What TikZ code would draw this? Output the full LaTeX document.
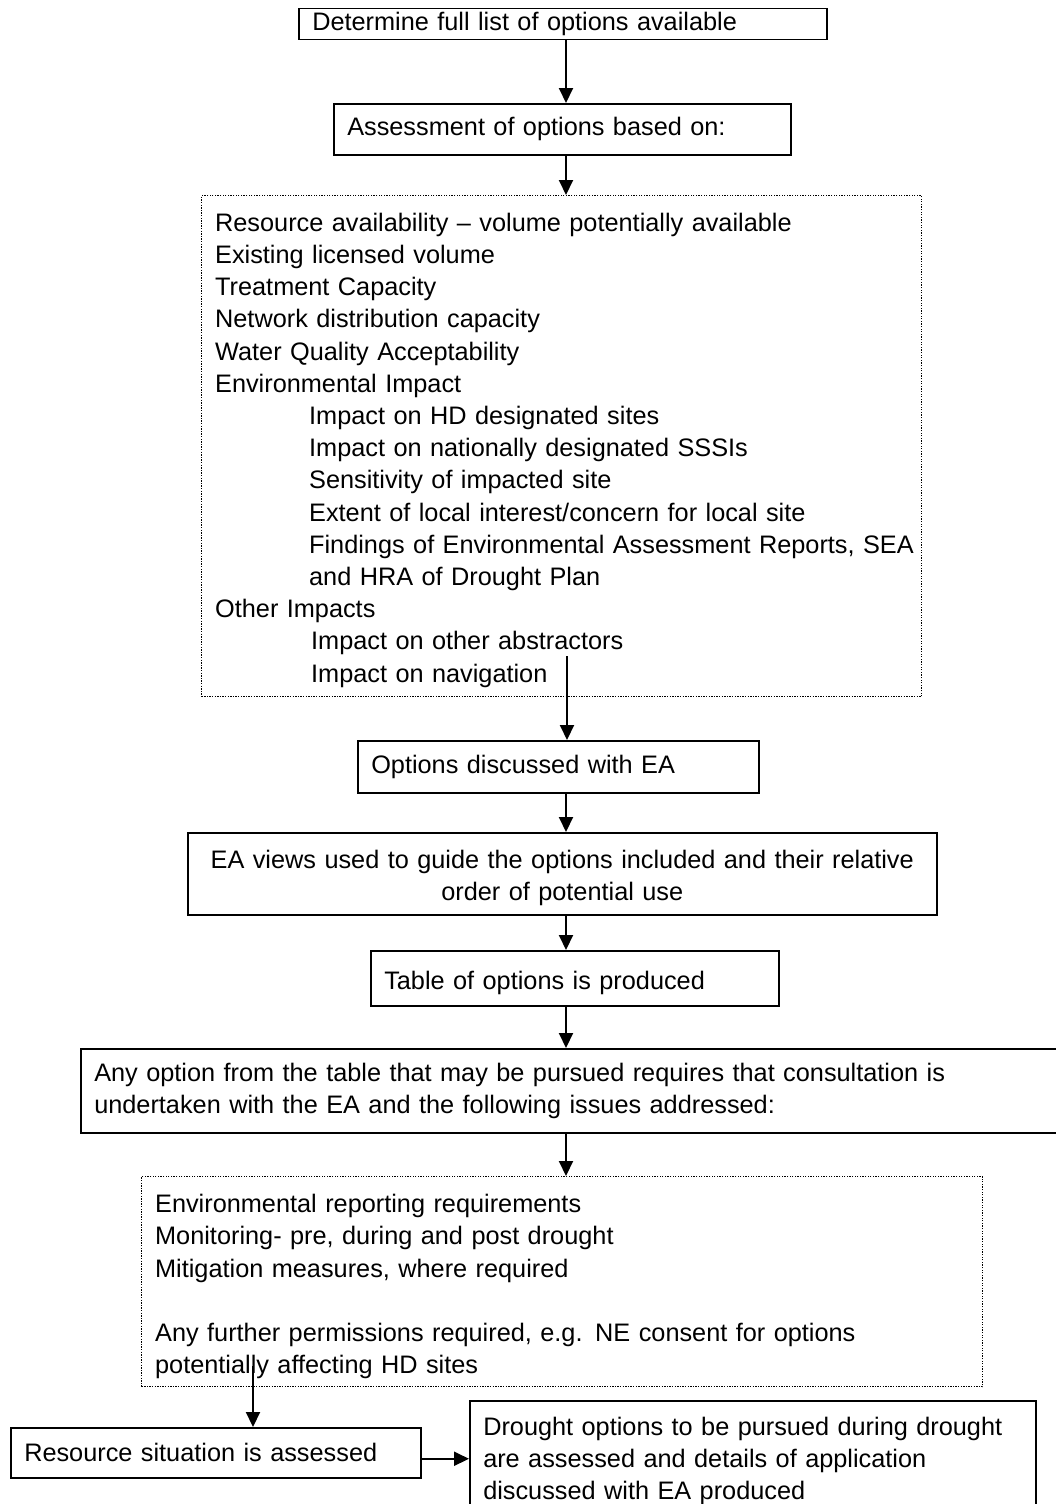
\documentclass[tikz,border=0pt]{standalone}
\usepackage{fontspec}
\setmainfont{Liberation Sans}
\usetikzlibrary{arrows.meta,calc}
\newcommand{\topstrut}[1]{\rule{0pt}{#1pt}}
\begin{document}
\begin{tikzpicture}[x=1pt,y=-1pt,
  every node/.style={font=\fontsize{25.3pt}{32.2pt}\selectfont},
  box/.style={draw, line width=1.5pt, anchor=north west, inner xsep=13.5pt, inner ysep=0pt, align=left},
  dbox/.style={box, line width=1.3pt, dash pattern=on 1.3pt off 1.3pt},
  arr/.style={line width=2pt, -{Triangle[width=14pt,length=15pt]}}]
\clip (0,0) rectangle (1056,1504);
\fill[white] (0,0) rectangle (1056,1504);
\node[box, text width=501pt, minimum height=31pt] (b1) at (298,8) {Determine full list of options available};
\node[box, text width=430pt, minimum height=51pt] (b2) at (333,103) {Assessment of options based on:};
\node[dbox, text width=693pt, minimum height=501pt] (d1) at (201,195) {\topstrut{26.2}Resource availability -- volume potentially available\\
Existing licensed volume\\
Treatment Capacity\\
Network distribution capacity\\
Water Quality Acceptability\\
Environmental Impact\\
\mbox{\hspace*{94pt}Impact on HD designated sites}\\
\mbox{\hspace*{94pt}Impact on nationally designated SSSIs}\\
\mbox{\hspace*{94pt}Sensitivity of impacted site}\\
\mbox{\hspace*{94pt}Extent of local interest/concern for local site}\\
\mbox{\hspace*{94pt}Findings of Environmental Assessment Reports, SEA}\\
\mbox{\hspace*{94pt}and HRA of Drought Plan}\\
Other Impacts\\
\mbox{\hspace*{96pt}Impact on other abstractors}\\
\mbox{\hspace*{96pt}Impact on navigation}};
\node[box, text width=374pt, minimum height=52pt] (o1) at (357,740) {Options discussed with EA};
\node[box, text width=722pt, minimum height=82pt, align=center] (e1) at (187,832) {\topstrut{26.2}EA views used to guide the options included and their relative\\ order of potential use};
\node[box, text width=381pt, minimum height=55pt] (t1) at (370,950) {\topstrut{28.2}Table of options is produced};
\node[box, text width=973pt, minimum height=84pt] (n1) at (80,1048) {\mbox{Any option from the table that may be pursued requires that consultation is}\\ undertaken with the EA and the following issues addressed:};
\node[dbox, text width=814pt, minimum height=210pt] (d2) at (141,1176) {\topstrut{28.2}Environmental reporting requirements\\
Monitoring- pre, during and post drought\\
Mitigation measures, where required\\
~\\
Any further permissions required, e.g. NE consent for options\\
potentially affecting HD sites};
\node[box, text width=383pt, minimum height=50pt] (r1) at (10,1427) {Resource situation is assessed};
\node[box, text width=539pt, minimum height=120pt] (dr) at (469,1400) {Drought options to be pursued during drought\\ are assessed and details of application\\ discussed with EA produced};
\coordinate (ax) at (566,0);
\draw[arr] (b1.south -| ax) -- (b2.north -| ax);
\draw[arr] (b2.south -| ax) -- (d1.north -| ax);
\coordinate (a3s) at (567,656);
\draw[arr] (a3s) -- (a3s |- o1.north);
\draw[arr] (o1.south -| ax) -- (e1.north -| ax);
\draw[arr] (e1.south -| ax) -- (t1.north -| ax);
\draw[arr] (t1.south -| ax) -- (n1.north -| ax);
\draw[arr] (n1.south -| ax) -- (d2.north -| ax);
\coordinate (a8s) at (253,1366);
\draw[arr] (a8s) -- (a8s |- r1.north);
\draw[arr] ([yshift=-6pt]r1.east) -- ([yshift=-6pt]r1.east -| dr.west);
\end{tikzpicture}
\end{document}
